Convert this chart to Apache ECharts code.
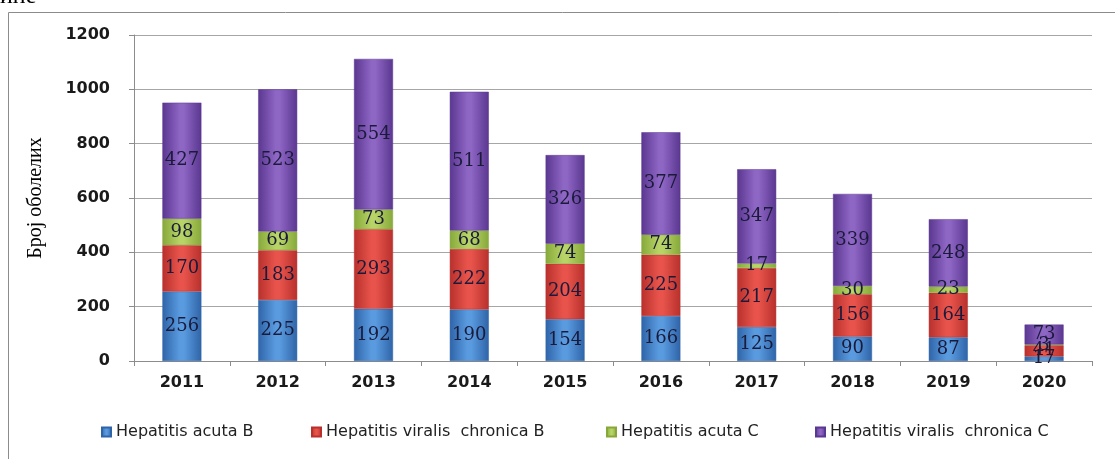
<!DOCTYPE html>
<html>
<head>
<meta charset="utf-8">
<script src="https://cdn.jsdelivr.net/npm/echarts@6/dist/echarts.min.js"></script>
<style>
  html, body { margin: 0; padding: 0; background: #fff; }
  #chart { width: 1115px; height: 459px; }
</style>
</head>
<body>
<div id="chart"></div>
<script>
const years = ['2011', '2012', '2013', '2014', '2015', '2016', '2017', '2018', '2019', '2020']
const acutaB = [256, 225, 192, 190, 154, 166, 125, 90, 87, 17]
const chronicaB = [170, 183, 293, 222, 204, 225, 217, 156, 164, 41]
const acutaC = [98, 69, 73, 68, 74, 74, 17, 30, 23, 3]
const chronicaC = [427, 523, 554, 511, 326, 377, 347, 339, 248, 73]
const seriesNames = ['Hepatitis acuta B', 'Hepatitis viralis  chronica B', 'Hepatitis acuta C', 'Hepatitis viralis  chronica C']

// боје: ивица, средина
const palette = [
  ['#2f64a8', '#5a9be0'],
  ['#b8302c', '#e8544c'],
  ['#86a83a', '#b8d466'],
  ['#5a3790', '#8e66c4']
]

function grad(c) {
  return new echarts.graphic.LinearGradient(0, 0, 1, 0, [
    { offset: 0, color: c[0] },
    { offset: 0.45, color: c[1] },
    { offset: 0.55, color: c[1] },
    { offset: 1, color: c[0] }
  ])
}

const chart = echarts.init(document.getElementById('chart'))

const labelStyle = {
  show: true,
  position: 'inside',
  color: '#1a1a3a',
  fontFamily: 'DejaVu Serif',
  fontSize: 18
}

function makeSeries(name, data, i) {
  return {
    name: name,
    type: 'bar',
    stack: 'total',
    data: data,
    barWidth: 39,
    itemStyle: { color: grad(palette[i]), borderColor: palette[i][0], borderWidth: 0.5 },
    label: labelStyle
  }
}

// легенда: свака ставка посебно, да би стала на своје место
const legendLeft = [101, 311, 606, 815]
const legends = seriesNames.map((n, i) => ({
  left: legendLeft[i],
  top: 424,
  padding: 0,
  itemWidth: 9,
  itemHeight: 9,
  itemGap: 8,
  icon: 'rect',
  textStyle: { fontFamily: 'DejaVu Sans', fontSize: 16, color: '#222' },
  data: [n]
}))

const option = {
  animation: false,
  color: palette.map(c => c[1]),
  graphic: [
    {
      type: 'rect',
      shape: { x: 8.5, y: 12.5, width: 1200, height: 500 },
      style: { fill: 'none', stroke: '#8c8c8c', lineWidth: 1 }
    },
    {
      type: 'text',
      left: 0,
      top: -15,
      style: { text: 'ине', font: '24px "Liberation Serif"', fill: '#000' }
    }
  ],
  grid: { left: 134, right: 23, top: 35, bottom: 98 },
  legend: legends,
  xAxis: {
    type: 'category',
    data: years,
    axisLine: { lineStyle: { color: '#8c8c8c' } },
    axisTick: { show: true, length: 5, lineStyle: { color: '#8c8c8c' } },
    axisLabel: { color: '#1a1a1a', fontFamily: 'DejaVu Sans', fontWeight: 'bold', fontSize: 16, margin: 14 }
  },
  yAxis: {
    type: 'value',
    min: 0,
    max: 1200,
    interval: 200,
    name: 'Број оболелих',
    nameLocation: 'middle',
    nameGap: 88,
    nameTextStyle: { fontFamily: 'Liberation Serif', fontSize: 20, color: '#000' },
    axisLine: { show: true, lineStyle: { color: '#8c8c8c' } },
    axisTick: { show: true, length: 5, lineStyle: { color: '#8c8c8c' } },
    splitLine: { lineStyle: { color: '#a6a6a6' } },
    axisLabel: {
      color: '#1a1a1a', fontFamily: 'DejaVu Sans', fontWeight: 'bold', fontSize: 16, margin: 24,
      formatter: v => String(v)
    }
  },
  series: [
    makeSeries(seriesNames[0], acutaB, 0),
    makeSeries(seriesNames[1], chronicaB, 1),
    makeSeries(seriesNames[2], acutaC, 2),
    makeSeries(seriesNames[3], chronicaC, 3)
  ]
}

chart.setOption(option)
</script>
</body>
</html>
